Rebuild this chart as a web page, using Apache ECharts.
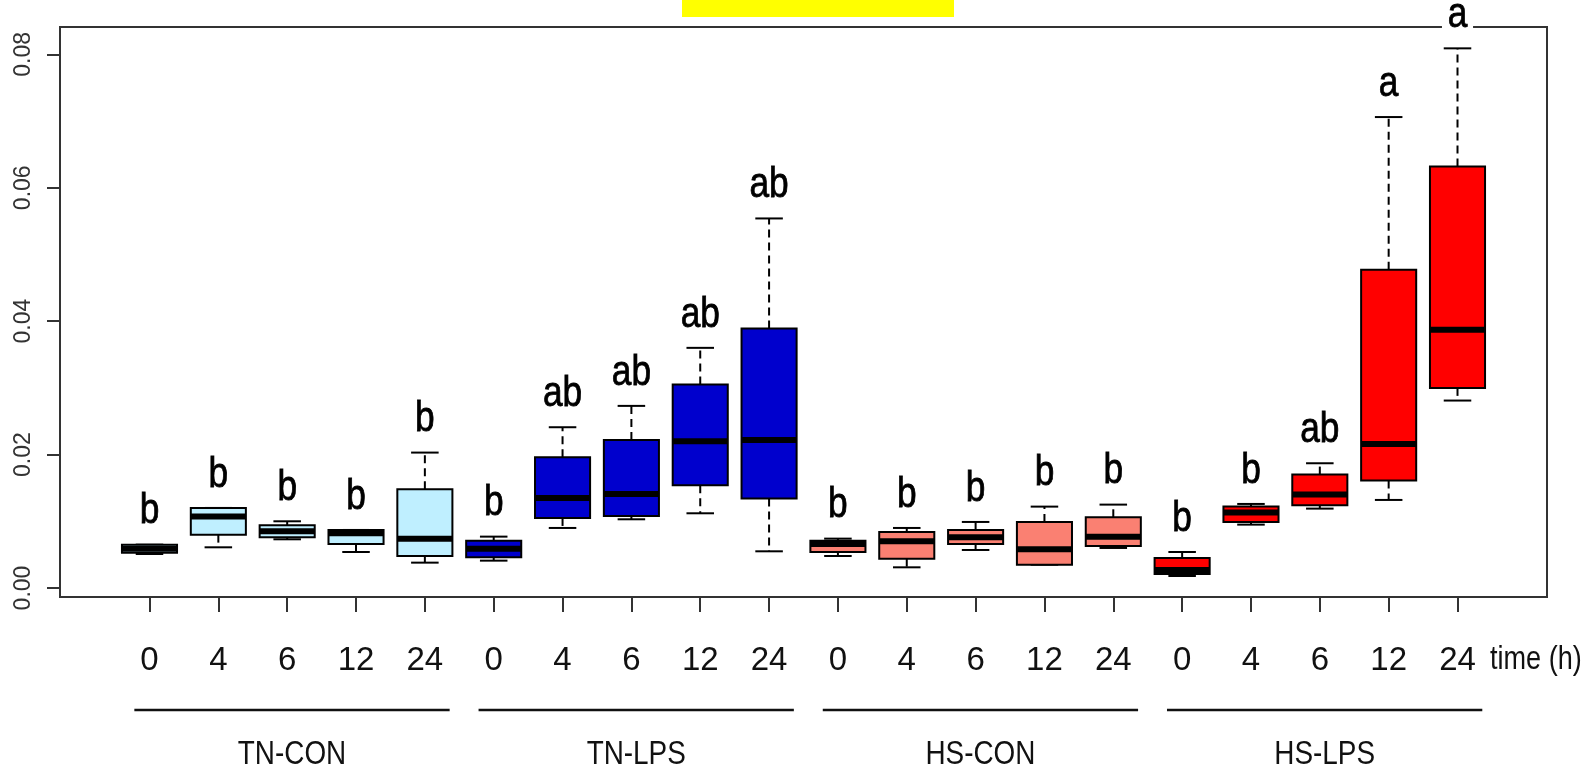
<!DOCTYPE html>
<html>
<head>
<meta charset="utf-8">
<title>boxplot</title>
<script src="https://cdn.jsdelivr.net/npm/echarts@6/dist/echarts.min.js"></script>
<style>
html, body { margin: 0; padding: 0; background: #fff; }
#chart { width: 1585px; height: 766px; }
</style>
</head>
<body>
<div id="chart"></div>
<script>
// groups and sampling times (h)
const groups = ['TN-CON', 'TN-LPS', 'HS-CON', 'HS-LPS']
const times = ['0', '4', '6', '12', '24']
const yTicks = [0, 0.02, 0.04, 0.06, 0.08]

// box summaries, 20 boxes (group by group, time by time)
const whiskerLow = [0.0051, 0.0061, 0.0073, 0.0054, 0.0038,
  0.0041, 0.0090, 0.0103, 0.0112, 0.0055,
  0.0048, 0.0031, 0.0057, 0.0035, 0.0060,
  0.0018, 0.0095, 0.0119, 0.0132, 0.0281]
const boxLow = [0.0053, 0.0080, 0.0076, 0.0066, 0.0048,
  0.0046, 0.0105, 0.0108, 0.0154, 0.0134,
  0.0054, 0.0044, 0.0066, 0.0035, 0.0063,
  0.0021, 0.0099, 0.0124, 0.0161, 0.0300]
const medians = [0.0059, 0.0107, 0.0085, 0.0082, 0.0074,
  0.0059, 0.0135, 0.0141, 0.0220, 0.0222,
  0.0066, 0.0070, 0.0076, 0.0058, 0.0077,
  0.0027, 0.0113, 0.0140, 0.0216, 0.0387]
const boxHigh = [0.0065, 0.0120, 0.0094, 0.0087, 0.0148,
  0.0071, 0.0196, 0.0222, 0.0305, 0.0389,
  0.0071, 0.0084, 0.0087, 0.0099, 0.0106,
  0.0045, 0.0122, 0.0170, 0.0477, 0.0632]
const whiskerHigh = [0.0065, 0.0120, 0.0100, 0.0087, 0.0203,
  0.0077, 0.0241, 0.0273, 0.0360, 0.0554,
  0.0074, 0.0090, 0.0099, 0.0122, 0.0125,
  0.0054, 0.0126, 0.0187, 0.0706, 0.0809]
const letters = ['b', 'b', 'b', 'b', 'b',
  'b', 'ab', 'ab', 'ab', 'ab',
  'b', 'b', 'b', 'b', 'b',
  'b', 'b', 'ab', 'a', 'a']

const groupColors = ['#bfefff', '#0000cd', '#fa8072', '#ff0000']
const sans = '"Liberation Sans", Arial, sans-serif'
// the reference text is horizontally condensed
const squeeze = 0.82

let boxData = []
for (let i = 0; i < medians.length; i++) {
  boxData.push([i + 1, whiskerLow[i], boxLow[i], medians[i], boxHigh[i], whiskerHigh[i], Math.floor(i / times.length)])
}
let groupData = groups.map((name, g) => [g * times.length + 1, (g + 1) * times.length, g])
let xPositions = boxData.map(d => d[0])

function renderBox (params, api) {
  let x = api.value(0)
  let g = api.value(6)
  let halfW = api.size([0.4, 0])[0]
  let capW = api.size([0.2, 0])[0]
  let lo = api.coord([x, api.value(1)])
  let q1 = api.coord([x, api.value(2)])
  let med = api.coord([x, api.value(3)])
  let q3 = api.coord([x, api.value(4)])
  let hi = api.coord([x, api.value(5)])
  let cx = med[0]
  let dashed = { stroke: '#000', lineWidth: 2, lineDash: [8, 5] }
  let solid = { stroke: '#000', lineWidth: 2 }
  return {
    type: 'group',
    children: [
      { type: 'line', shape: { x1: cx, y1: q3[1], x2: cx, y2: hi[1] }, style: dashed },
      { type: 'line', shape: { x1: cx, y1: q1[1], x2: cx, y2: lo[1] }, style: dashed },
      { type: 'line', shape: { x1: cx - capW, y1: hi[1], x2: cx + capW, y2: hi[1] }, style: solid },
      { type: 'line', shape: { x1: cx - capW, y1: lo[1], x2: cx + capW, y2: lo[1] }, style: solid },
      {
        type: 'rect',
        shape: { x: cx - halfW, y: q3[1], width: halfW * 2, height: q1[1] - q3[1] },
        style: { fill: groupColors[g], stroke: '#000', lineWidth: 2 }
      },
      { type: 'line', shape: { x1: cx - halfW, y1: med[1], x2: cx + halfW, y2: med[1] }, style: { stroke: '#000', lineWidth: 6 } },
      {
        type: 'text',
        x: cx,
        y: hi[1] - 33,
        scaleX: squeeze,
        style: {
          text: letters[params.dataIndex],
          fontSize: 43,
          fontFamily: sans,
          fill: '#000',
          stroke: '#000',
          lineWidth: 0.8,
          align: 'center',
          verticalAlign: 'middle',
          backgroundColor: '#fff',
          padding: [0, 7, 0, 7]
        }
      }
    ]
  }
}

function renderGroup (params, api) {
  let cs = params.coordSys
  let a = api.coord([api.value(0) - 0.22, 0])[0]
  let b = api.coord([api.value(1) + 0.36, 0])[0]
  let base = cs.y + cs.height
  return {
    type: 'group',
    children: [
      { type: 'line', shape: { x1: a, y1: base + 113, x2: b, y2: base + 113 }, style: { stroke: '#111', lineWidth: 2.5 } },
      {
        type: 'text',
        x: (a + b) / 2,
        y: base + 158,
        scaleX: squeeze,
        style: { text: groups[api.value(2)], fontSize: 34, fontFamily: sans, fill: '#111', align: 'center', verticalAlign: 'middle' }
      }
    ]
  }
}

let myChart = echarts.init(document.getElementById('chart'))
let option = {
  animation: false,
  grid: {
    left: 60,
    right: 38,
    top: 27,
    bottom: 169,
    show: true,
    borderColor: '#333',
    borderWidth: 2,
    backgroundColor: 'transparent'
  },
  xAxis: {
    type: 'value',
    min: -0.3,
    max: 21.3,
    axisLine: { show: true, onZero: false, lineStyle: { color: '#333', width: 2 } },
    axisTick: { show: true, customValues: xPositions, length: 15, lineStyle: { color: '#333', width: 2 } },
    axisLabel: {
      customValues: xPositions,
      formatter: v => times[(Math.round(v) - 1) % times.length],
      fontSize: 33,
      fontFamily: sans,
      color: '#111',
      margin: 47
    },
    splitLine: { show: false }
  },
  yAxis: {
    type: 'value',
    min: -0.00135,
    max: 0.0841,
    axisLine: { show: true, onZero: false, lineStyle: { color: '#333', width: 2 } },
    axisTick: { show: true, customValues: yTicks, length: 13, lineStyle: { color: '#333', width: 2 } },
    axisLabel: {
      customValues: yTicks,
      formatter: v => v.toFixed(2),
      rotate: 90,
      fontSize: 23,
      fontFamily: sans,
      color: '#333',
      margin: 25
    },
    splitLine: { show: false }
  },
  graphic: [
    { type: 'rect', shape: { x: 682, y: 0, width: 272, height: 17 }, style: { fill: '#ffff00' } },
    {
      type: 'text',
      x: 1490,
      y: 660,
      scaleX: squeeze,
      style: { text: 'time (h)', fontSize: 33, fontFamily: sans, fill: '#111', align: 'left', verticalAlign: 'middle' }
    }
  ],
  series: [
    {
      type: 'custom',
      name: 'boxes',
      renderItem: renderBox,
      encode: { x: 0, y: [1, 2, 3, 4, 5] },
      data: boxData,
      z: 3
    },
    {
      type: 'custom',
      name: 'groups',
      renderItem: renderGroup,
      encode: { x: [0, 1] },
      data: groupData,
      z: 3
    }
  ]
}
myChart.setOption(option)
</script>
</body>
</html>
